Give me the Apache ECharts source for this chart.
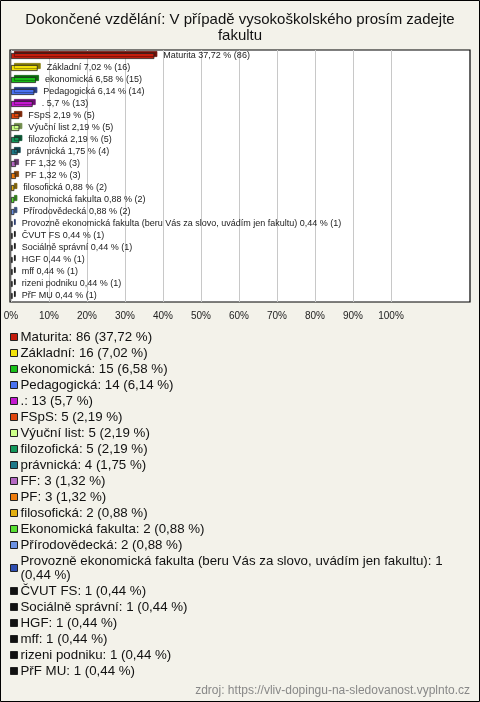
<!DOCTYPE html>
<html><head><meta charset="utf-8">
<script src="https://cdn.jsdelivr.net/npm/echarts@6/dist/echarts.min.js"></script>
<style>html,body{margin:0;padding:0;background:#f3f2ea}#c{width:480px;height:702px}</style>
</head><body><div id="c"></div>
<script>
const categories = ['Maturita','Základní','ekonomická','Pedagogická','.','FSpS','Výuční list','filozofická','právnická','FF','PF','filosofická','Ekonomická fakulta','Přírodovědecká','Provozně ekonomická fakulta (beru Vás za slovo, uvádím jen fakultu)','ČVUT FS','Sociálně správní','HGF','mff','rizeni podniku','PřF MU'];
const counts = [86,16,15,14,13,5,5,5,4,3,3,2,2,2,1,1,1,1,1,1,1];
const percents = [37.72,7.02,6.58,6.14,5.7,2.19,2.19,2.19,1.75,1.32,1.32,0.88,0.88,0.88,0.44,0.44,0.44,0.44,0.44,0.44,0.44];
const tickValues = [0,10,20,30,40,50,60,70,80,90,100];
const palette = ['#c41c0c','#f2e20a','#18c018','#4a72f0','#c41ad0','#e0460e','#ccff88','#12975a','#1e7888','#b468c2','#ee7c0c','#e2b012','#58e032','#6c92e2','#2e4eb0','#111111','#111111','#111111','#111111','#111111','#111111'];

const fmtPct = v => String(v).replace('.', ',');
const FONT = '"Liberation Sans", Arial, sans-serif';

function darker(hex, f) {
  const n = parseInt(hex.slice(1), 16);
  const r = Math.round(((n >> 16) & 255) * f), g = Math.round(((n >> 8) & 255) * f), b = Math.round((n & 255) * f);
  return 'rgb(' + r + ',' + g + ',' + b + ')';
}

const series = categories.map((name, i) => ({
  name: name,
  type: 'bar',
  xAxisIndex: 1,
  yAxisIndex: 1,
  barWidth: 6,
  barGap: '-100%',
  data: categories.map((c, j) => j === i ? percents[i] : '-'),
  itemStyle: {
    color: palette[i],
    borderColor: '#222',
    borderWidth: 0.8,
    shadowColor: darker(palette[i], 0.55),
    shadowOffsetX: 3,
    shadowOffsetY: -2,
    shadowBlur: 0
  },
  label: {
    show: true,
    position: 'right',
    distance: 9,
    fontSize: 9,
    fontFamily: FONT,
    color: '#222',
    formatter: () => name + ' ' + fmtPct(percents[i]) + ' % (' + counts[i] + ')'
  },
  emphasis: { disabled: true },
  animation: false
}));

const chart = echarts.init(document.getElementById('c'), null, { renderer: 'canvas' });
chart.setOption({
  backgroundColor: '#f3f2ea',
  animation: false,
  title: [{
    text: 'Dokončené vzdělání: V případě vysokoškolského prosím zadejte\nfakultu',
    left: 'center',
    top: 12,
    padding: 0,
    textStyle: { fontSize: 15, fontWeight: 'normal', color: '#111', fontFamily: FONT, lineHeight: 16 }
  }, {
    text: 'zdroj: https://vliv-dopingu-na-sledovanost.vyplnto.cz',
    right: 10,
    bottom: 5,
    padding: 0,
    textStyle: { fontSize: 12, fontWeight: 'normal', color: '#888', fontFamily: FONT }
  }],
  legend: {
    orient: 'vertical',
    left: 10,
    top: 330,
    padding: 0,
    itemWidth: 7,
    itemHeight: 7,
    itemGap: 2,
    icon: 'rect',
    selectedMode: false,
    itemStyle: { borderColor: '#222', borderWidth: 1, shadowBlur: 0, shadowOffsetX: 0, shadowOffsetY: 0, shadowColor: 'transparent' },
    textStyle: { fontSize: 13.3, color: '#111', fontFamily: FONT, lineHeight: 14, width: 458, overflow: 'break', padding: [0, 0, 0, -2] },
    formatter: name => {
      const i = categories.indexOf(name);
      return name + ': ' + counts[i] + ' (' + fmtPct(percents[i]) + ' %)';
    },
    data: categories
  },
  grid: [
    { left: 10, right: 10, top: 50, bottom: 400, show: true, backgroundColor: '#ffffff', borderColor: '#000', borderWidth: 1.2, containLabel: false },
    { left: 11, right: 89, top: 50, bottom: 400, containLabel: false }
  ],
  xAxis: [
    { gridIndex: 0, type: 'value', show: false, min: 0, max: 100 },
    {
      gridIndex: 1, type: 'value', min: tickValues[0], max: tickValues[tickValues.length - 1], interval: 10,
      axisLine: { show: false }, axisTick: { show: false },
      splitLine: { show: true, lineStyle: { color: '#c8c8c8', width: 1 } },
      axisLabel: { fontSize: 10, color: '#222', fontFamily: FONT, margin: 9, formatter: '{value}%' }
    }
  ],
  yAxis: [
    { gridIndex: 0, type: 'value', show: false },
    {
      gridIndex: 1, type: 'category', data: categories, inverse: true,
      axisLine: { show: false }, axisTick: { show: false }, axisLabel: { show: false }, splitLine: { show: false }
    }
  ],
  series: series,
  graphic: [{
    type: 'rect',
    z: 100,
    shape: { x: 0.5, y: 0.5, width: 479, height: 701 },
    style: { fill: 'none', stroke: '#000', lineWidth: 1 },
    silent: true
  }]
});
</script></body></html>
